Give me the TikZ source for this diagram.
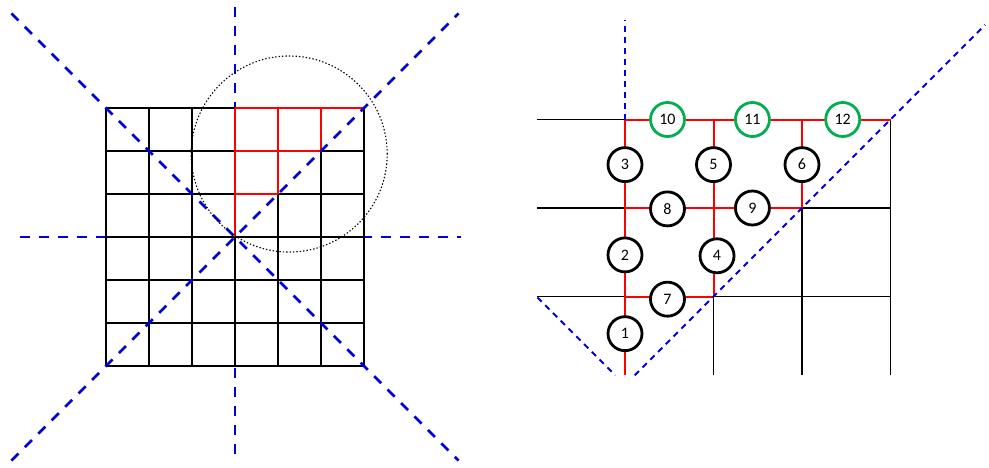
\documentclass[tikz,border=0pt]{standalone}
\usepackage{fontspec}
\setmainfont{Carlito}
\usetikzlibrary{calc}
\definecolor{sitegreen}{RGB}{0,176,80}
\definecolor{axisblue}{RGB}{0,0,215}

\begin{document}
\begin{tikzpicture}[x=1pt,y=-1pt]
\tikzstyle{axis}=[axisblue,line width=2.8pt,dash pattern=on 10pt off 9pt]
\tikzstyle{thinaxis}=[axisblue,line width=1.8pt,dash pattern=on 6pt off 5pt]
\tikzstyle{gridline}=[black,line width=2.6pt]
\tikzstyle{thingrid}=[black,line width=1.8pt]
\tikzstyle{redline}=[red,line width=2.6pt]
\tikzstyle{thinred}=[red,line width=2pt]
\tikzstyle{site}=[circle,draw=black,line width=2.8pt,fill=white,minimum size=34pt,inner sep=0pt,font=\fontsize{16}{19}\selectfont]
\tikzstyle{edgesite}=[site,draw=sitegreen]

	\useasboundingbox (0,0) rectangle (989,467);

	% full lattice with the symmetry axes
	\begin{scope}[shift={(235,237)},x=43pt,y=43pt]
		\draw [axis] (0,5.35) -- (0,-5.25);
		\draw [axis] (-5,0) -- (5.25,0);
		
		\foreach \k in {-3,...,0} {
			\draw [gridline] (\k,-3) -- (\k,3);
			\draw [gridline] (-3,\k) -- (3,\k);
		}
		\draw [gridline] (0,-3) -- (0,0);
		\draw [gridline] (1,-3) -- (1,1) (2,-3) -- (2,2) (3,-3) -- (3,3);
		\draw [gridline] (-3,1) -- (0,1) (1,1) -- (3,1);
		\draw [gridline] (-3,2) -- (0,2) (2,2) -- (3,2);
		\draw [gridline] (-3,3) -- (0,3);
		
		\draw [redline] (0,0) -- (0,3);
		\draw [redline] (0,3) -- (3,3);
		\draw [redline] (0,2) -- (2,2);
		\draw [redline] (2,2) -- (2,3);
		\draw [redline] (0,1) -- (1,1);
		\draw [redline] (1,1) -- (1,3);
		
		\draw [axis] (-5.2,5.2) -- (5.2,-5.2);
		\draw [axis] (-5.2,-5.2) -- (5.2,5.2);
		
		\draw [black,line width=1.1pt,dash pattern=on 1.4pt off 2pt] (1.26,1.93) circle (2.28);
	\end{scope}

	% zoom of the irreducible wedge
	\begin{scope}[shift={(625,385)},x=88.5pt,y=88.5pt]
		\draw [thingrid] (-0.99,3) -- (0,3);
		\draw [thingrid] (-0.99,2) -- (0,2) (2,2) -- (3,2);
		\draw [thingrid] (-0.99,1) -- (0,1) (1,1) -- (3,1);
		\draw [thingrid] (1,0.11) -- (1,1) (2,0.11) -- (2,2) (3,0.11) -- (3,3);
		
		\draw [thinred] (0,0.11) -- (0,3);
		\draw [thinred] (0,3) -- (3,3);
		\draw [thinred] (0,2) -- (2,2);
		\draw [thinred] (2,2) -- (2,3);
		\draw [thinred] (0,1) -- (1,1);
		\draw [thinred] (1,1) -- (1,3);
		
		\draw [thinaxis] (0,3) -- (0,4.12);
		\draw [thinaxis] (0.11,0.11) -- (4.07,4.07);
		\draw [thinaxis] (-0.99,0.99) -- (-0.11,0.11);
		
		\node (n1) [site] at (0,0.58) {1};
		\node (n2) [site] at (0,1.47) {2};
		\node (n3) [site] at (0,2.49) {3};
		\node (n4) [site] at (1.04,1.46) {4};
		\node (n5) [site] at (1,2.49) {5};
		\node (n6) [site] at (2,2.49) {6};
		\node (n7) [site] at (0.48,0.97) {7};
		\node (n8) [site] at (0.48,1.99) {8};
		\node (n9) [site] at (1.44,2) {9};
		\node (n10) [edgesite] at (0.48,3) {10};
		\node (n11) [edgesite] at (1.44,3) {11};
		\node (n12) [edgesite] at (2.46,3) {12};
	\end{scope}

\end{tikzpicture}
\end{document}
